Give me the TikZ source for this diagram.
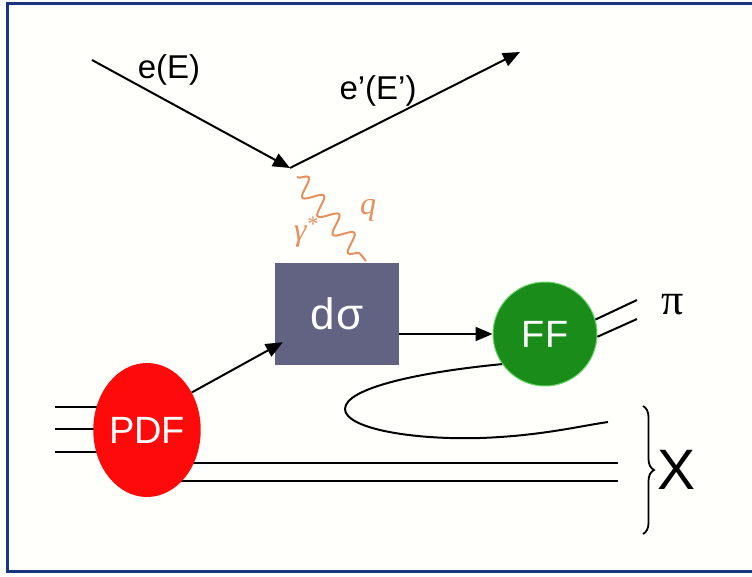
\documentclass[tikz,border=0pt]{standalone}
\usepackage{fontspec}
\setmainfont{Liberation Sans}
\newfontfamily\seriffont{Liberation Serif}
\usetikzlibrary{arrows.meta,shapes.geometric,decorations.pathmorphing,decorations.pathreplacing,backgrounds,calc}
\definecolor{frameblue}{HTML}{1A3580}
\definecolor{boxgray}{HTML}{626282}
\definecolor{ffgreen}{HTML}{1A8C1A}
\definecolor{photon}{HTML}{E69060}
\definecolor{pdfred}{HTML}{FF0A0A}
\tikzset{
  lbl/.style={font=\fontsize{33}{36}\selectfont, inner sep=0pt},
  arr/.style={line width=2pt, -{Triangle[length=17pt,width=14pt]}},
  plain/.style={line width=2pt},
  blob/.style={text=white, inner sep=0pt, font=\fontsize{38}{42}\selectfont},
}
\begin{document}
\begin{tikzpicture}[x=1pt,y=-1pt]
\useasboundingbox (0,0) rectangle (752,576);
% nodes
\node[blob, ellipse, fill=pdfred, minimum width=104pt, minimum height=134pt] (pdf) at (147,430) {PDF};
\node[blob, rectangle, fill=boxgray, minimum width=124pt, minimum height=102pt, font=\fontsize{44}{48}\selectfont] (ds) at (337,314) {d\kern1pt σ};
\node[blob, circle, fill=ffgreen, draw=ffgreen!60!green!60!white, line width=1pt, minimum size=104pt] (ff) at (545,334) {FF};
\node[lbl, font=\seriffont\fontsize{44}{46}\selectfont] (pi) at (673,305) {π};
\node[lbl, font=\fontsize{57}{60}\selectfont] (X) at (677,470) {X};
\node[lbl] (eE) at (169,70) {e(E)};
\node[lbl] (ePE) at (378,91) {e’(E’)};
\node[lbl, text=photon, font=\seriffont\itshape\fontsize{32}{34}\selectfont] (gam) at (306,232) {γ\textsuperscript{*}};
\node[lbl, text=photon, font=\seriffont\itshape\fontsize{32}{34}\selectfont] (q) at (368,210) {q};
% coordinates
\coordinate (ein) at (92,60);
\coordinate (v) at (290,168);
\coordinate (eout) at (520,52);
\coordinate (ph1) at (297,177);
\coordinate (ph2) at (366,261);
\coordinate (l1) at (55,407);
\coordinate (l2) at (55,429);
\coordinate (l3) at (55,452);
\coordinate (h1) at (618,463);
\coordinate (h2) at (618,481);
\coordinate (p1) at (637,300);
\coordinate (p2) at (637,319);
\coordinate (loopend) at (608,422);
\coordinate (bt) at (643,406);
\coordinate (bb) at (643,534);
\begin{scope}[on background layer]
  \fill[white] (0,0) rectangle (752,576);
  \fill[yellow!1!white] (7,3) rectangle (752,571);
  \draw[frameblue, line width=3pt] (752,3) -- (7,3) -- (7,571) -- (752,571);
  \draw[plain] (l1) -- (l1 -| pdf.center);
  \draw[plain] (l2) -- (l2 -| pdf.center);
  \draw[plain] (l3) -- (l3 -| pdf.center);
  \draw[plain] (h1 -| pdf.center) -- (h1);
  \draw[plain] (h2 -| pdf.center) -- (h2);
\end{scope}
% electrons
\draw[arr] (ein) -- (v);
\draw[arr] (v) -- (eout);
% photon
\draw[photon, line width=2pt, decorate, decoration={snake, segment length=24pt, amplitude=9pt}] (ph1) -- (ph2);
% flow arrows
\draw[arr] (pdf.40) -- ($(ds.south west)+(8,-23)$);
\draw[arr] ($(ds.east)+(0,20)$) -- (ff.west);
% pion lines
\draw[plain] (ff.16) -- (p1);
\draw[plain] (ff.-3) -- (p2);
% loop
\draw[plain] (ff.215) .. controls (420,372) and (345,388) .. (345,409)
   .. controls (345,428) and (410,440) .. (480,438)
   .. controls (540,436) and (580,426) .. (loopend);
% brace
\draw[line width=1.8pt, decorate, decoration={brace, amplitude=11pt}] (bt) -- (bb);
\end{tikzpicture}
\end{document}
